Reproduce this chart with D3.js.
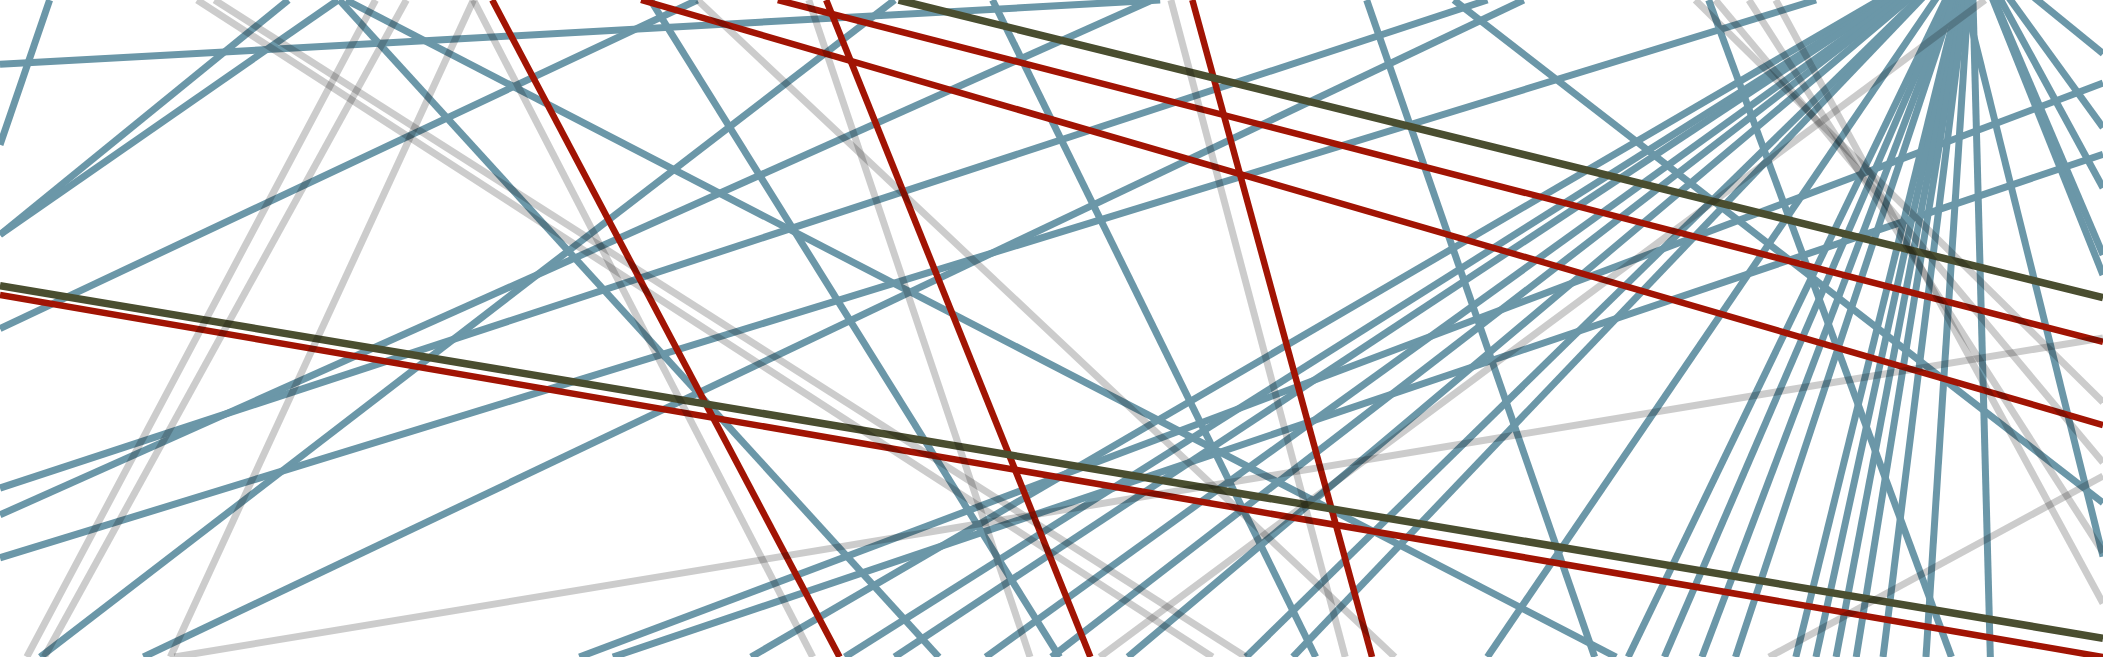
<!DOCTYPE html>
<html>
<head>
<meta charset="utf-8">
<script src="https://cdn.jsdelivr.net/npm/d3@7"></script>
<style>
  body { margin: 0; background: #fff; overflow: hidden; }
</style>
</head>
<body>
<script>
// each line: [x1, y1, x2, y2] in chart units (frame is 1568 x 490)
var blueLines = [
  [37, 0, 0, 108],
  [0, 48, 865, 0],
  [0, 175, 215, 0],
  [0, 175, 252, 0],
  [0, 245, 520, 0],
  [253, 0, 700, 490],
  [258, 0, 1205, 490],
  [485, 0, 790, 490],
  [30, 490, 667, 0],
  [0, 364, 1109, 0],
  [0, 384, 859, 0],
  [0, 416, 1354, 0],
  [107, 490, 1136, 0],
  [432, 490, 1568, 62],
  [457, 490, 1568, 115],
  [1019, 0, 1189, 490],
  [740, 0, 981, 490],
  [1084, 0, 1568, 375],
  [1274, 0, 1455, 490],
  [1465, 0, 1568, 415]
];

// the fan: many lines leaving the same spot above the top edge
var fanTop = [1470, -40];
var fanEnds = [
  [560, 490], [630, 490], [667, 490], [735, 490], [784, 490],
  [841, 490], [929, 490], [964, 490], [1109, 490],
  [1214, 490], [1241, 490], [1269, 490], [1294, 490], [1339, 490], [1354, 490],
  [1369, 490], [1384, 490], [1404, 490], [1436, 490], [1484, 490],
  [1568, 40], [1568, 95], [1568, 140], [1568, 190], [1568, 205]
];

var redLines = [
  [0, 220, 1568, 490],
  [580, 0, 1568, 255],
  [478, 0, 1568, 317],
  [367, 0, 626, 490],
  [616, 0, 813, 490],
  [889, 0, 1023, 490]
];

var oliveLines = [
  [0, 213, 1568, 476],
  [670, 0, 1568, 222]
];

var grayLines = [
  [147, 0, 904, 490],
  [160, 0, 929, 490],
  [20, 490, 280, 0],
  [33, 490, 303, 0],
  [127, 490, 353, 0],
  [353, 0, 606, 490],
  [520, 0, 1040, 490],
  [603, 0, 768, 490],
  [873, 0, 1003, 490],
  [130, 490, 1568, 252],
  [820, 490, 1480, 0],
  [1319, 490, 1568, 355],
  [1264, 0, 1568, 300],
  [1279, 0, 1568, 345],
  [1304, 0, 1568, 412],
  [1324, 0, 1568, 450]
];

var width = 2103, height = 657;

var x = d3.scaleLinear().domain([0, 1568]).range([0, width]);
var y = d3.scaleLinear().domain([0, 490]).range([0, height]);

var svg = d3.select('body').append('svg')
    .attr('width', width)
    .attr('height', height);

svg.append('rect')
    .attr('width', width)
    .attr('height', height)
    .style('fill', '#fff');

var fanLines = fanEnds.map(function(e) {
  return [fanTop[0], fanTop[1], e[0], e[1]];
});

function drawLines(data, color, w, opacity) {
  svg.append('g')
      .selectAll('line')
      .data(data)
      .join('line')
      .attr('x1', function(d) { return x(d[0]); })
      .attr('y1', function(d) { return y(d[1]); })
      .attr('x2', function(d) { return x(d[2]); })
      .attr('y2', function(d) { return y(d[3]); })
      .attr('stroke', color)
      .attr('stroke-width', w)
      .attr('stroke-opacity', opacity);
}

drawLines(blueLines.concat(fanLines), '#6b97a8', 7, 1);
drawLines(redLines, '#a11404', 6.5, 1);
drawLines(oliveLines, '#4a4e30', 7.5, 1);
drawLines(grayLines, '#000', 7, 0.2);
</script>
</body>
</html>
